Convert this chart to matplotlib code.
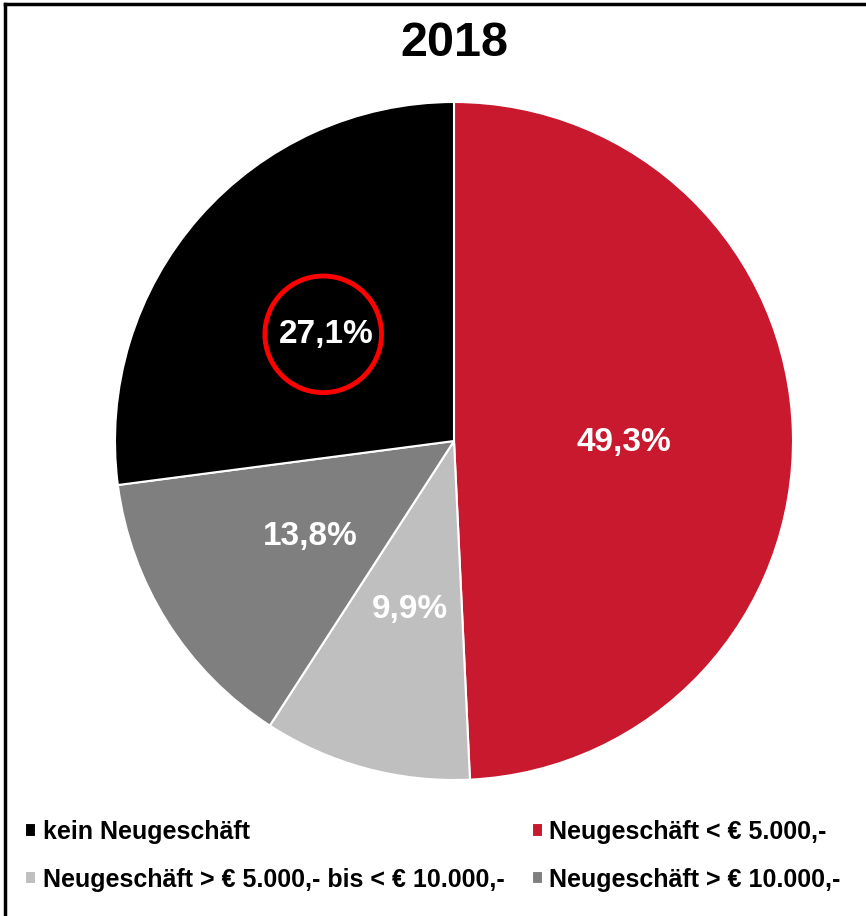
import matplotlib.pyplot as plt
from matplotlib.lines import Line2D
from matplotlib.patches import Circle

plt.rcParams['font.family'] = ['Liberation Sans', 'DejaVu Sans']

# Data
title = "2018"
categories = [
    "Neugeschäft < € 5.000,-",
    "Neugeschäft > € 5.000,- bis < € 10.000,-",
    "Neugeschäft > € 10.000,-",
    "kein Neugeschäft",
]
shares = [49.3, 9.9, 13.8, 27.1]
colors = ["#C8192E", "#BFBFBF", "#7F7F7F", "#000000"]
legend_order = [3, 1, 0, 2]

fig = plt.figure(figsize=(8.66, 9.16), dpi=100)

# pie axes (square in pixels)
r_px = 339
cx, cy = 454, 441
W, H = 866, 916
ax = fig.add_axes([(cx - r_px) / W, (H - cy - r_px) / H, 2 * r_px / W, 2 * r_px / H])

wedges, texts, autotexts = ax.pie(
    shares,
    colors=colors,
    startangle=90,
    counterclock=False,
    autopct=lambda p: "",
    pctdistance=0.5,
    wedgeprops=dict(edgecolor="white", linewidth=1.5),
)
ax.set_xlim(-1, 1)
ax.set_ylim(-1, 1)
ax.set_aspect("equal")

for t, v in zip(autotexts, shares):
    t.set_text(f"{v:.1f}%".replace(".", ","))
    t.set_color("white")
    t.set_fontsize(24)
    t.set_fontweight("bold")
    x, y = t.get_position()
    t.set_position((x, y - 0.015))

# red highlight circle around the 27,1% label
x27, y27 = autotexts[3].get_position()
ax.add_patch(Circle((x27 - 0.01, y27), 0.172, fill=False, edgecolor="#FF0000", linewidth=3.5, zorder=5))

fig.text(0.525, 0.952, title, ha="center", va="center", fontsize=35, fontweight="bold")

handles = [wedges[i] for i in legend_order]
labels = [categories[i] for i in legend_order]
fig.legend(
    handles, labels,
    loc="lower left", bbox_to_anchor=(0.003, 0.002),
    ncol=2, frameon=False,
    prop=dict(size=18, weight="bold"),
    handlelength=0.45, handleheight=0.45, handletextpad=0.25,
    columnspacing=1.1, labelspacing=0.95,
)

# screenshot frame (top and left edges only)
fig.add_artist(Line2D([5 / W, 1], [1 - 4 / H, 1 - 4 / H], color="black", linewidth=2.5, transform=fig.transFigure))
fig.add_artist(Line2D([5 / W, 5 / W], [0, 1 - 4 / H], color="black", linewidth=2.5, transform=fig.transFigure))

fig.savefig("out.png", dpi=100)
